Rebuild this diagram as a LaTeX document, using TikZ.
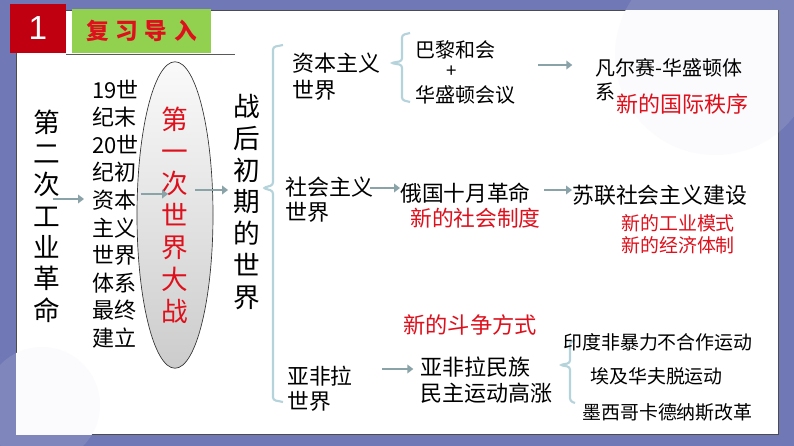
\documentclass[tikz,border=0pt]{standalone}
\usepackage{fontspec}
\newfontfamily\cjk{Noto Sans CJK SC}
\newfontfamily\latin{Liberation Sans}
\usetikzlibrary{positioning, arrows.meta, shapes.geometric}
\definecolor{frameblue}{RGB}{112,121,181}
\definecolor{titlered}{RGB}{192,0,16}
\definecolor{titlegreen}{RGB}{146,208,80}
\definecolor{notered}{RGB}{222,16,28}
\definecolor{arrowgray}{RGB}{138,163,168}
\definecolor{bracecol}{RGB}{181,211,219}

\begin{document}
\begin{tikzpicture}[
    x=0.75pt, y=-0.75pt,
    vtext/.style={font=\cjk\fontsize{20}{23.5}\selectfont, align=center, inner sep=0pt},
    txt/.style={font=\cjk\fontsize{16.5}{20}\selectfont, align=left, inner sep=0pt, anchor=west},
    minor/.style={txt, font=\cjk\fontsize{14.2}{16.5}\selectfont},
    note/.style={txt, text=notered},
    arr/.style={draw=arrowgray, line width=2.2pt, -{Triangle[length=4.5pt,width=6.5pt]}},
    brace/.style={draw=bracecol, line width=1.6pt, rounded corners=2pt}
]
\useasboundingbox (0,0) rectangle (794,446);

% =============================
% 0. Slide frame and title
% =============================
\fill[frameblue] (0,0) rectangle (794,446);
\fill[white, opacity=0.1] (42,405) circle (58);
\fill[white, opacity=0.1] (715,55) circle (100);
\draw[fill=white, draw=gray!60!black, line width=0.6pt] (16,10) rectangle (778,434);
\begin{scope}
\clip (16,10) rectangle (778,434);
\fill[frameblue!3] (42,405) circle (58);
\fill[frameblue!3] (715,55) circle (100);
\end{scope}
\draw[gray!70!black, line width=0.6pt] (66,54) -- (235,54);

\node[fill=titlered, minimum width=42pt, minimum height=37pt, inner sep=0pt,
      text=white, font=\latin\fontsize{25}{25}\selectfont] (num) at (38,28.5) {1};
\node[fill=titlegreen, minimum width=104pt, minimum height=33pt, inner sep=0pt,
      text=notered, font=\cjk\bfseries\fontsize{17}{17}\selectfont] (head) at (141.5,31)
      {复\hspace{5pt}习\hspace{5pt}导\hspace{5pt}入};

% =============================
% 1. Left chain
% =============================
\node[vtext] (ind) at (47,216) {第\\二\\次\\工\\业\\革\\命};
\node[font=\cjk\fontsize{16.5}{20.7}\selectfont, align=left, inner sep=0pt] (rise) at (115.5,214)
      {19世\\纪末\\20世\\纪初\\资本\\主义\\世界\\体系\\最终\\建立};
\node[ellipse, draw=black!80, line width=0.5pt, top color=gray!4, bottom color=gray!40,
      minimum width=57pt, minimum height=197pt, inner sep=0pt, text=notered,
      font=\cjk\fontsize{20}{24}\selectfont, align=center] (ww1) at (175,215)
      {第\\一\\次\\世\\界\\大\\战};
\node[vtext, font=\cjk\fontsize{20}{23.8}\selectfont] (post) at (247,202) {战\\后\\初\\期\\的\\世\\界};

\draw[arr, shorten <=-6pt, shorten >=6pt] (ind.east |- 0,199) -- (rise.west |- 0,199);
\draw[arr, shorten <=1.5pt, shorten >=5.2pt] (rise.east |- 0,194) -- (ww1.center |- 0,194);
\draw[arr, shorten <=15pt, shorten >=4pt] (ww1.center |- 0,190) -- (post.west |- 0,190);

% =============================
% 2. Big bracket and three worlds
% =============================
\draw[brace] (283,45) -- (273,47) -- (273,185) -- (263,188) -- (273,191) -- (273,400) -- (283,402);

% capitalist world
\node[txt] (cap) at (292,76.5) {资本主义\\世界};
\draw[brace] (410,33) -- (402,35) -- (402,61) -- (391,63) -- (402,65) -- (402,100) -- (410,102);
\node[txt, font=\cjk\fontsize{15}{15}\selectfont] (paris) at (415,50) {巴黎和会};
\node[inner sep=0pt, font=\cjk\fontsize{14}{14}\selectfont] (plus) at (452,72) {+};
\node[txt, font=\cjk\fontsize{15}{15}\selectfont] (wash) at (415,95) {华盛顿会议};
\node[txt, font=\cjk\fontsize{15}{15}\selectfont] (vw) at (595,68) {凡尔赛-华盛顿体};
\node[txt, font=\cjk\fontsize{15}{15}\selectfont] (vw2) at (595,92) {系};
\node[note, font=\cjk\fontsize{16.5}{16.5}\selectfont] (intl) at (616,104) {新的国际秩序};
\coordinate (pw) at (538,65);
\draw[arr, shorten >=17pt] (pw) -- (pw -| vw.west);

% socialist world
\node[txt, font=\cjk\fontsize{16.5}{19}\selectfont] (soc) at (285,199.5) {社会主义\\世界};
\node[txt, font=\cjk\fontsize{16.3}{16.3}\selectfont] (oct) at (400,193) {俄国十月革命};
\node[note, font=\cjk\fontsize{16.3}{16.3}\selectfont] (socsys) at (410,218) {新的社会制度};
\node[txt, font=\cjk\fontsize{16.4}{16.4}\selectfont] (ussr) at (572,195) {苏联社会主义建设};
\node[note, font=\cjk\fontsize{14.2}{16.5}\selectfont] (model) at (621,234) {新的工业模式\\新的经济体制};
\draw[arr, shorten <=-3pt] (soc.east |- 0,188) -- (oct.west |- 0,188);
\draw[arr, shorten <=10pt] (oct.east |- 0,190) -- (ussr.west |- 0,190);

% Asia, Africa, Latin America
\node[note, font=\cjk\fontsize{16.7}{16.7}\selectfont] (strug) at (403,325) {新的斗争方式};
\node[txt, font=\cjk\fontsize{16.3}{18.8}\selectfont] (afr) at (287,389) {亚非拉\\世界};
\node[txt, font=\cjk\fontsize{16.5}{19.5}\selectfont] (natl) at (420,380) {亚非拉民族\\民主运动高涨};
\draw[arr, shorten <=22pt, shorten >=5pt] (afr.east |- 0,369) -- (natl.west |- 0,369);
\draw[brace] (575,340) -- (570,342) -- (570,363) -- (560,365) -- (570,367) -- (570,401) -- (575,403);
\node[minor] (india) at (563,342) {印度非暴力不合作运动};
\node[minor] (egypt) at (590,376) {埃及华夫脱运动};
\node[minor] (mex) at (582,412) {墨西哥卡德纳斯改革};
\end{tikzpicture}
\end{document}
